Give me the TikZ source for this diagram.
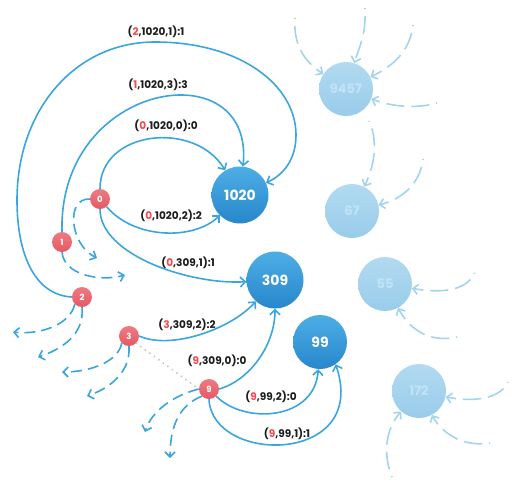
\documentclass[tikz,border=0pt]{standalone}
\usepackage{fontspec}
\setmainfont{Poppins}
\usetikzlibrary{arrows.meta,positioning}
\definecolor{edgeblue}{HTML}{3AA6DE}
\definecolor{fadedblue}{HTML}{A3D4EE}
\definecolor{ballhi}{HTML}{4DAEE6}
\definecolor{ballmid}{HTML}{2D93D3}
\definecolor{balllo}{HTML}{2787CB}
\definecolor{fadehi}{HTML}{B2DAF1}
\definecolor{fadelo}{HTML}{99CCEA}
\definecolor{fadetext}{HTML}{C2E3F6}
\definecolor{redhi}{HTML}{EF7A82}
\definecolor{redlo}{HTML}{E45964}
\definecolor{numred}{HTML}{F04A52}
\definecolor{labelink}{HTML}{1C1C1C}
\newcommand{\edgelbl}[4]{(\textcolor{numred}{#1},#2,#3):#4}

\begin{document}
\begin{tikzpicture}[x=1pt, y=-1pt,
    every node/.append style={font=\bfseries},
    bignode/.style={circle, minimum size=57pt, inner sep=0pt, top color=ballhi, middle color=ballmid, bottom color=balllo, text=white, font=\fontsize{14}{16}\bfseries},
    fadednode/.style={circle, minimum size=54pt, inner sep=0pt, top color=fadehi, bottom color=fadelo, text=fadetext, font=\fontsize{13}{15}\bfseries},
    rednode/.style={circle, minimum size=20pt, inner sep=0pt, top color=redhi, bottom color=redlo, text=white, font=\fontsize{8.5}{9}\bfseries},
    edgelabel/.style={text=labelink, inner sep=1pt, font=\fontsize{10.5}{12}\bfseries},
    link/.style={draw=edgeblue, line width=1.6pt, -{Straight Barb[length=5pt,width=10pt]}},
    outlink/.style={link, dash pattern=on 11pt off 6pt},
    fadedlink/.style={draw=fadedblue, line width=1.6pt, dash pattern=on 1pt off 7pt on 18pt off 7pt on 18pt off 7pt on 90pt, -{Straight Barb[length=5pt,width=10pt]}}]
  \useasboundingbox (0,0) rectangle (518,482);

  % nodes
  \node[bignode] (n1020) at (240,195) {1020};
  \node[bignode] (n309) at (275,280) {309};
  \node[bignode, minimum size=54pt] (n99) at (320,342) {99};
  \node[fadednode] (n9457) at (346,89) {9457};
  \node[fadednode] (n67) at (352,211) {67};
  \node[fadednode] (n55) at (385,284) {55};
  \node[fadednode] (n172) at (419,391) {172};
  \node[rednode] (n0) at (100,199) {0};
  \node[rednode] (n1) at (62,242) {1};
  \node[rednode] (n2) at (82,297) {2};
  \node[rednode] (n3) at (129,336) {3};
  \node[rednode] (n9) at (209,389) {9};

  % labels
  \node[edgelabel] (l2) at (156,32) {\edgelbl{2}{1020}{1}{1}};
  \node[edgelabel] (l1) at (158,85) {\edgelbl{1}{1020}{3}{3}};
  \node[edgelabel] (l0a) at (166,126) {\edgelbl{0}{1020}{0}{0}};
  \node[edgelabel] (l0b) at (171,216) {\edgelbl{0}{1020}{2}{2}};
  \node[edgelabel] (l0c) at (188,263) {\edgelbl{0}{309}{1}{1}};
  \node[edgelabel] (l3) at (187,325) {\edgelbl{3}{309}{2}{2}};
  \node[edgelabel] (l9a) at (217,361) {\edgelbl{9}{309}{0}{0}};
  \node[edgelabel] (l9b) at (271,397) {\edgelbl{9}{99}{2}{0}};
  \node[edgelabel] (l9c) at (287,434) {\edgelbl{9}{99}{1}{1}};

  % solid edges
  \draw[link] (n0.north) .. controls (100,130) and (195,120) .. (n1020);
  \draw[link] (n0) .. controls (135,240) and (195,240) .. (n1020);
  \draw[link] (n1.north) .. controls (58,80) and (255,50) .. (n1020);
  \draw[link] (n2.west) .. controls (35,295) and (17,255) .. (17,200)
    .. controls (17,110) and (75,42) .. (155,42)
    .. controls (240,42) and (296,85) .. (296,135)
    .. controls (296,160) and (283,175) .. (n1020);
  \draw[link] (n0.south) .. controls (100,255) and (190,285) .. (n309);
  \draw[link] (n3.east) .. controls (170,350) and (230,330) .. (n309);
  \draw[link] (n9.east) .. controls (250,380) and (275,345) .. (n309);
  \draw[link] (n9.south east) .. controls (245,425) and (315,420) .. (n99);
  \draw[link] (n9.south) .. controls (212,465) and (370,465) .. (n99.-55);

  % dashed edges leaving the red nodes
  \coordinate (d0) at (97,258);
  \coordinate (d1) at (125,275);
  \coordinate (d2a) at (13,332);
  \coordinate (d2b) at (38,357);
  \coordinate (d3a) at (62,372);
  \coordinate (d3b) at (87,396);
  \coordinate (d9a) at (145,432);
  \coordinate (d9b) at (170,458);
  \draw[outlink] (n0.west) .. controls (65,198) and (70,245) .. (d0);
  \draw[outlink] (n1.south) .. controls (64,275) and (100,282) .. (d1);
  \draw[outlink] (n2.south west) .. controls (70,325) and (40,335) .. (d2a);
  \draw[outlink] (n2.south) .. controls (85,335) and (60,350) .. (d2b);
  \draw[outlink] (n3.south west) .. controls (118,362) and (90,372) .. (d3a);
  \draw[outlink] (n3.south) .. controls (131,375) and (105,390) .. (d3b);
  \draw[outlink] (n9.west) .. controls (175,395) and (152,410) .. (d9a);
  \draw[outlink] (n9.south west) .. controls (180,405) and (170,425) .. (d9b);
  \draw[draw=gray!50, line width=2pt, line cap=round, dash pattern=on 0.1pt off 5.5pt] (n3.south east) -- (n9.west);

  % faded edges
  \coordinate (f1) at (365,8);
  \coordinate (f2) at (295,18);
  \coordinate (f3) at (413,25);
  \coordinate (f4) at (437,103);
  \coordinate (f5) at (369,121);
  \coordinate (f6) at (423,159);
  \coordinate (f7) at (475,273);
  \coordinate (f8) at (457,337);
  \coordinate (f9) at (508,382);
  \coordinate (f10) at (490,443);
  \coordinate (f11) at (392,477);
  \draw[fadedlink] (f1) .. controls (366,35) and (360,45) .. (n9457);
  \draw[fadedlink] (f2) .. controls (293,45) and (305,62) .. (n9457);
  \draw[fadedlink] (f3) .. controls (410,50) and (395,65) .. (n9457);
  \draw[fadedlink] (f4) .. controls (420,108) and (395,108) .. (n9457);
  \draw[fadedlink] (f5) .. controls (378,140) and (375,165) .. (n67);
  \draw[fadedlink] (f6) .. controls (420,185) and (400,200) .. (n67);
  \draw[fadedlink] (f7) .. controls (465,292) and (440,293) .. (n55);
  \draw[fadedlink] (f8) .. controls (430,343) and (410,330) .. (n55);
  \draw[fadedlink] (f9) .. controls (500,400) and (470,402) .. (n172);
  \draw[fadedlink] (f10) .. controls (460,448) and (440,430) .. (n172);
  \draw[fadedlink] (f11) .. controls (383,455) and (385,430) .. (n172);
\end{tikzpicture}
\end{document}
